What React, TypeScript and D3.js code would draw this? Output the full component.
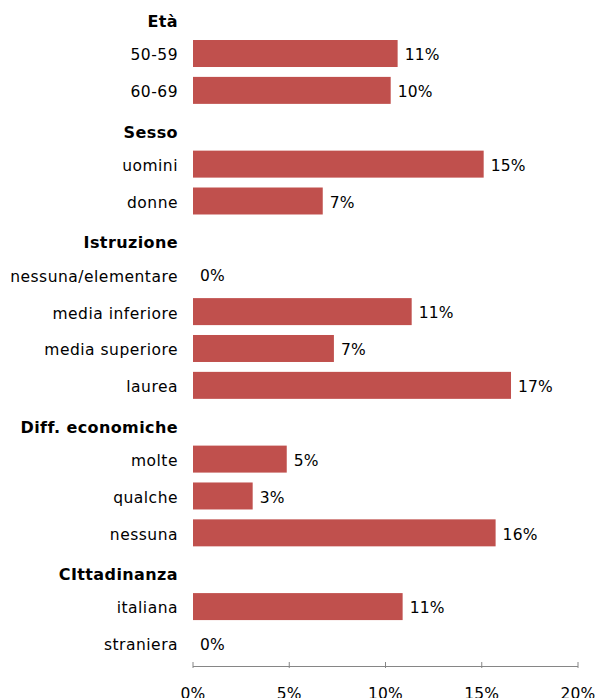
import React from "react";
import * as d3 from "d3";

const rows: string[] = [
  "Età", "50-59", "60-69",
  "Sesso", "uomini", "donne",
  "Istruzione", "nessuna/elementare", "media inferiore", "media superiore", "laurea",
  "Diff. economiche", "molte", "qualche", "nessuna",
  "CIttadinanza", "italiana", "straniera",
];
const headers: string[] = ["Età", "Sesso", "Istruzione", "Diff. economiche", "CIttadinanza"];
// values in percent; null for section headers
const values: (number | null)[] = [
  null, 10.63, 10.27,
  null, 15.1, 6.74,
  null, 0, 11.36, 7.32, 16.52,
  null, 4.87, 3.1, 15.72,
  null, 10.89, 0,
];
const xTicks: number[] = [0, 5, 10, 15, 20];

const W = 599;
const H = 698;
const FONT = "'DejaVu Sans', sans-serif";

export default function App() {
  const x = d3.scaleLinear().domain([0, 20]).range([193, 578]);
  const y = d3
    .scaleBand<number>()
    .domain(d3.range(rows.length))
    .range([-1.8, 661.9])
    .paddingInner(0.268)
    .paddingOuter(0.134);
  const bw = y.bandwidth();
  const axisY = 666.5;
  const labelX = 178;
  const color = "#C0504D";

  return (
    <svg width={W} height={H} style={{ display: "block" }}>
      <style>{`body{margin:0}`}</style>
      <rect x={0} y={0} width={W} height={H} fill="#fff" />
      {rows.map((r, i) => {
        const isHeader = headers.includes(r);
        const cy = (y(i) as number) + bw / 2;
        const v = values[i];
        return (
          <g key={i}>
            <text
              x={labelX}
              y={cy + (isHeader ? 6 : 2.4)}
              textAnchor="end"
              dominantBaseline="middle"
              fontFamily={FONT}
              fontSize={isHeader ? 16 : 15.5}
              fontWeight={isHeader ? "bold" : "normal"}
              letterSpacing={isHeader ? 0.4 : 0.5}
              fill="#000"
            >
              {r}
            </text>
            {v !== null && (
              <>
                {v > 0 && (
                  <rect
                    x={x(0)}
                    y={y(i)}
                    width={x(v) - x(0)}
                    height={bw}
                    fill={color}
                  />
                )}
                <text
                  x={x(v) + 7}
                  y={cy + 2.2}
                  dominantBaseline="middle"
                  fontFamily={FONT}
                  fontSize={15.5}
                  letterSpacing={0.2}
                  fill="#000"
                >
                  {Math.round(v) + "%"}
                </text>
              </>
            )}
          </g>
        );
      })}
      <line x1={x(0)} x2={x(20)} y1={axisY} y2={axisY} stroke="#868686" strokeWidth={1} />
      {xTicks.map((t) => (
        <g key={t}>
          <line x1={x(t)} x2={x(t)} y1={axisY - 4.5} y2={axisY + 1.5} stroke="#868686" strokeWidth={1} />
          <text
            x={x(t)}
            y={axisY + 32}
            textAnchor="middle"
            fontFamily={FONT}
            fontSize={15.5}
            letterSpacing={0.2}
            fill="#000"
          >
            {t + "%"}
          </text>
        </g>
      ))}
    </svg>
  );
}
